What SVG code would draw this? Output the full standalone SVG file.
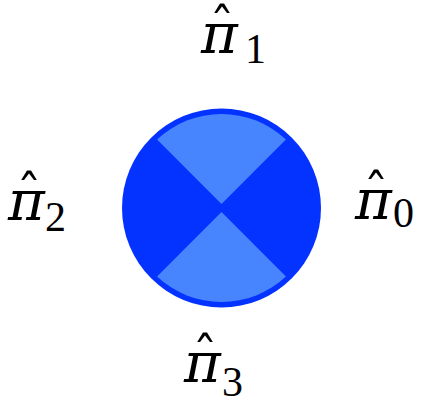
<svg xmlns="http://www.w3.org/2000/svg" width="421" height="405" viewBox="0 0 421 405">
<style>
.pi{font-family:"DejaVu Serif",serif;font-style:italic;font-size:56px;fill:#000}
.hat{font-family:"DejaVu Serif",serif;font-size:50px;fill:#000;text-anchor:middle}
.sub{font-family:"Liberation Serif",serif;font-size:42px;fill:#000}
.dark{fill:#0433ff}
.light{fill:#4785ff}
</style>
<g id="disc">
<circle class="dark" cx="221.5" cy="208" r="99.5"/>
<path class="light" d="M221.5 204 L157.06 139.56 A94 94 0 0 1 285.94 139.56 Z"/>
<path class="light" d="M221.5 212 L157.06 276.44 A94 94 0 0 0 285.94 276.44 Z"/>
</g>
<g id="label1">
<text class="pi" x="201" y="53">π</text>
<text class="hat" x="222" y="44">ˆ</text>
<text class="sub" x="245" y="63">1</text>
</g>
<g id="label2">
<text class="pi" x="8" y="220">π</text>
<text class="hat" x="29" y="211">ˆ</text>
<text class="sub" x="45" y="231">2</text>
</g>
<g id="label0">
<text class="pi" x="355" y="219">π</text>
<text class="hat" x="376" y="210">ˆ</text>
<text class="sub" x="393" y="227">0</text>
</g>
<g id="label3">
<text class="pi" x="184" y="382">π</text>
<text class="hat" x="205" y="373">ˆ</text>
<text class="sub" x="222" y="396">3</text>
</g>
</svg>
